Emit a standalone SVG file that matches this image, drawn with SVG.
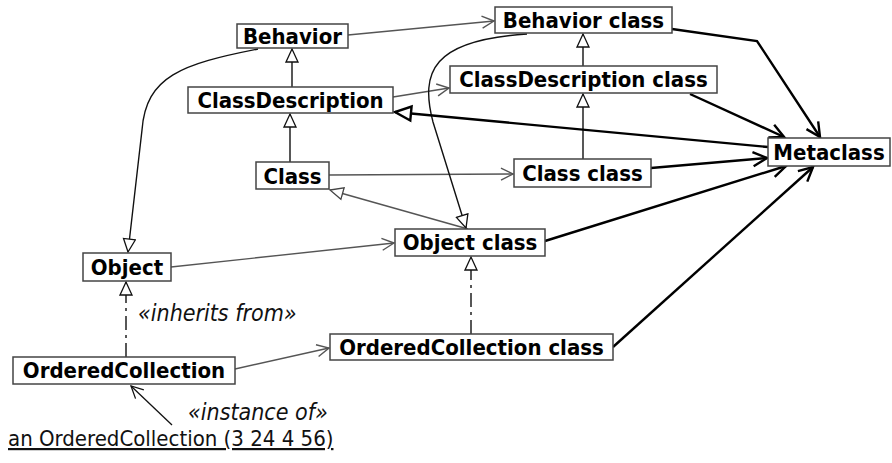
<svg xmlns="http://www.w3.org/2000/svg" width="892" height="463" viewBox="0 0 892 463">
  <style>
    .box { fill: #ffffff; stroke: #444444; stroke-width: 1.5; }
    .lbl { font-family: "DejaVu Sans Condensed", "DejaVu Sans", sans-serif; font-weight: bold; font-size: 22px; fill: #000000; text-anchor: middle; }
    .note { font-family: "DejaVu Sans Condensed", "DejaVu Sans", sans-serif; font-style: italic; font-size: 23px; fill: #111111; }
    .inst { font-family: "DejaVu Sans Condensed", "DejaVu Sans", sans-serif; font-size: 22px; fill: #111111; text-decoration: underline; }
    .assoc { fill: none; stroke: #555555; stroke-width: 1.4; marker-end: url(#openGray); }
    .assocBlack { fill: none; stroke: #111111; stroke-width: 1.3; marker-end: url(#openBlack); }
    .gen { fill: none; stroke: #111111; stroke-width: 1.4; marker-end: url(#tri); }
    .genGray { fill: none; stroke: #555555; stroke-width: 1.4; marker-end: url(#triGray); }
    .genDash { fill: none; stroke: #111111; stroke-width: 1.4; stroke-dasharray: 14 5 3 5; marker-end: url(#tri); }
    .meta { fill: none; stroke: #000000; stroke-width: 2.4; marker-end: url(#openThick); }
    .metaGen { fill: none; stroke: #000000; stroke-width: 2.4; marker-end: url(#triThick); }
  </style>
  <defs>
    <marker id="openGray" markerUnits="userSpaceOnUse" markerWidth="16" markerHeight="16" refX="13" refY="7" orient="auto">
      <path d="M1,1 L13,7 L1,13" fill="none" stroke="#555555" stroke-width="1.4"/>
    </marker>
    <marker id="openBlack" markerUnits="userSpaceOnUse" markerWidth="16" markerHeight="16" refX="13" refY="7" orient="auto">
      <path d="M1,1 L13,7 L1,13" fill="none" stroke="#111111" stroke-width="1.3"/>
    </marker>
    <marker id="openThick" markerUnits="userSpaceOnUse" markerWidth="20" markerHeight="20" refX="16" refY="9" orient="auto">
      <path d="M2,2 L16,9 L2,16" fill="none" stroke="#000000" stroke-width="2.4"/>
    </marker>
    <marker id="tri" markerUnits="userSpaceOnUse" markerWidth="16" markerHeight="16" refX="14" refY="7" orient="auto">
      <path d="M1,1 L14,7 L1,13 Z" fill="#ffffff" stroke="#111111" stroke-width="1.3"/>
    </marker>
    <marker id="triGray" markerUnits="userSpaceOnUse" markerWidth="16" markerHeight="16" refX="14" refY="7" orient="auto">
      <path d="M1,1 L14,7 L1,13 Z" fill="#ffffff" stroke="#444444" stroke-width="1.3"/>
    </marker>
    <marker id="triThick" markerUnits="userSpaceOnUse" markerWidth="22" markerHeight="22" refX="18" refY="9" orient="auto">
      <path d="M2,2 L18,9 L2,16 Z" fill="#ffffff" stroke="#000000" stroke-width="2.4"/>
    </marker>
  </defs>

  <g id="connectors">
    <!-- instance-of links to the metaclasses -->
    <path class="assoc" d="M348,35 L494,21"/>
    <path class="assoc" d="M393,97 L449,88"/>
    <path class="assoc" d="M329,175 L513,174"/>
    <path class="assoc" d="M171,267 L394,243"/>
    <path class="assoc" d="M235,369 L329,348"/>
    <path class="assocBlack" d="M172,425 L131,386"/>
    <!-- inheritance -->
    <path class="gen" d="M292,87 L292,49"/>
    <path class="gen" d="M290,162 L290,114"/>
    <path class="gen" d="M583,66 L583,34"/>
    <path class="gen" d="M583,159 L583,94"/>
    <path class="genGray" d="M468,229 L330,190"/>
    <path class="gen" d="M527,34 C432,40 420,72 433,122 L466,228"/>
    <path class="gen" d="M258,49 C182,64 146,76 142,130 L128,252"/>
    <path class="genDash" d="M471,334 L471,257"/>
    <path class="genDash" d="M126,357 L126,282"/>
    <!-- every metaclass is an instance of Metaclass -->
    <path class="meta" d="M672,29 L757,41 L820,137"/>
    <path class="meta" d="M690,94 L784,137"/>
    <path class="meta" d="M651,168 L767,158"/>
    <path class="meta" d="M545,241 L786,166"/>
    <path class="meta" d="M613,347 L813,167"/>
    <path class="metaGen" d="M768,147 L395,112"/>
  </g>

  <g id="behavior">
    <rect class="box" x="237" y="24" width="111" height="24"/>
    <text class="lbl" x="292.5" y="44">Behavior</text>
  </g>
  <g id="behavior-class">
    <rect class="box" x="495" y="7" width="177" height="26"/>
    <text class="lbl" x="583.5" y="28">Behavior class</text>
  </g>
  <g id="class-description">
    <rect class="box" x="188" y="87" width="205" height="26"/>
    <text class="lbl" x="290.5" y="108">ClassDescription</text>
  </g>
  <g id="class-description-class">
    <rect class="box" x="450" y="66" width="267" height="27"/>
    <text class="lbl" x="583.5" y="87">ClassDescription class</text>
  </g>
  <g id="metaclass">
    <rect class="box" x="768" y="138" width="122" height="28"/>
    <text class="lbl" x="829" y="160">Metaclass</text>
  </g>
  <g id="class">
    <rect class="box" x="256" y="162" width="73" height="27"/>
    <text class="lbl" x="292.5" y="184">Class</text>
  </g>
  <g id="class-class">
    <rect class="box" x="514" y="159" width="137" height="28"/>
    <text class="lbl" x="582.5" y="181">Class class</text>
  </g>
  <g id="object-class">
    <rect class="box" x="395" y="229" width="150" height="27"/>
    <text class="lbl" x="470" y="250">Object class</text>
  </g>
  <g id="object">
    <rect class="box" x="83" y="253" width="88" height="28"/>
    <text class="lbl" x="127" y="275">Object</text>
  </g>
  <g id="ordered-collection-class">
    <rect class="box" x="330" y="334" width="283" height="26"/>
    <text class="lbl" x="471.5" y="355">OrderedCollection class</text>
  </g>
  <g id="ordered-collection">
    <rect class="box" x="13" y="357" width="222" height="27"/>
    <text class="lbl" x="124" y="378">OrderedCollection</text>
  </g>
  <g id="an-ordered-collection">
    <text class="inst" x="8" y="446">an OrderedCollection (3 24 4 56)</text>
  </g>

  <text class="note" x="138" y="321">«inherits from»</text>
  <text class="note" x="188" y="420">«instance of»</text>
</svg>
